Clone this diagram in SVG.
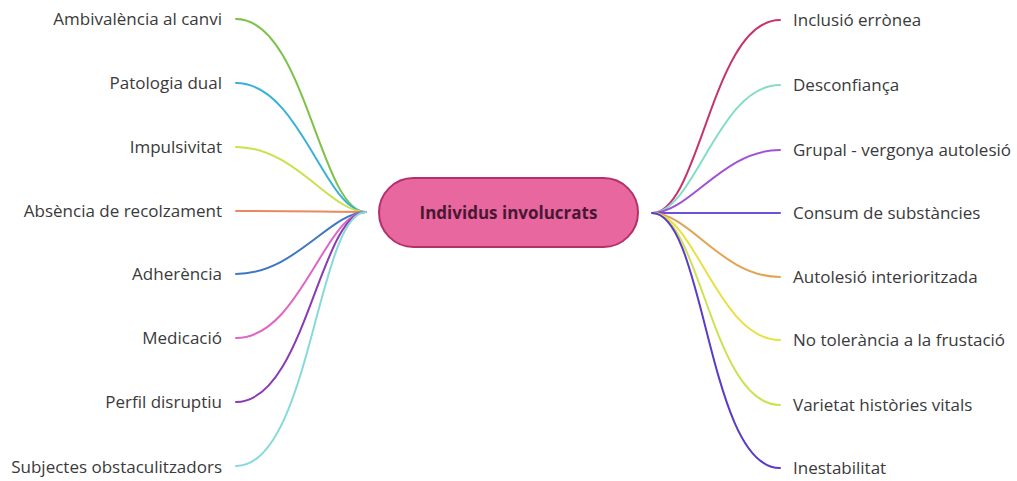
<svg xmlns="http://www.w3.org/2000/svg" width="1017" height="481" viewBox="0 0 1017 481">
  <style>
    .lbl { font-family: "Open Sans", "Noto Sans", sans-serif; font-size: 17px; fill: #3a3a3a; dominant-baseline: central; }
    .left { text-anchor: end; }
    .conn path { fill: none; stroke-width: 2; stroke-linecap: round; }
    .hub { fill: #e8679f; stroke: #b5306b; stroke-width: 2; }
    .hubtxt { font-family: "Open Sans", "Noto Sans", sans-serif; font-size: 17px; font-weight: bold; fill: #4a1733; text-anchor: middle; dominant-baseline: central; }
  </style>
  <rect width="1017" height="481" fill="#ffffff"/>

  <!-- branches -->
  <g id="connectors" class="conn">
    <path d="M236,19 C305,19 320,212 366,212" stroke="#7cc24a"/>
    <path d="M236,83 C300,83 325,212 366,212" stroke="#3ab2d8"/>
    <path d="M236,147 C295,147 330,212 366,212" stroke="#cde04c"/>
    <path d="M236,211 C300,211 330,212 366,212" stroke="#e88a5e"/>
    <path d="M236,274 C295,274 330,212 366,212" stroke="#3f77c2"/>
    <path d="M236,338 C300,338 325,212 366,212" stroke="#e065c4"/>
    <path d="M236,402 C305,402 320,212 366,212" stroke="#8a3ab3"/>
    <path d="M236,466 C310,466 318,212 366,212" stroke="#86dada"/>

    <path d="M652,213 C700,213 712,20 780,20" stroke="#c8336f"/>
    <path d="M652,213 C695,213 718,85 780,85" stroke="#84dcc8"/>
    <path d="M652,213 C690,213 722,150 780,150" stroke="#a152d4"/>
    <path d="M652,213 C690,213 720,213 780,213" stroke="#6b52da"/>
    <path d="M652,213 C690,213 722,277 780,277" stroke="#e2a452"/>
    <path d="M652,213 C695,213 718,340 780,340" stroke="#e9e043"/>
    <path d="M652,213 C700,213 712,405 780,405" stroke="#cfe153"/>
    <path d="M652,213 C705,213 708,468 780,468" stroke="#5b3bca"/>
  </g>

  <g id="center">
    <rect class="hub" x="379" y="178" width="259" height="69" rx="34.5"/>
    <text class="hubtxt" x="508.5" y="212.5">Individus involucrats</text>
  </g>

  <g id="n-ambivalencia"><text class="lbl left" x="222" y="18">Ambivalència al canvi</text></g>
  <g id="n-patologia"><text class="lbl left" x="222" y="82">Patologia dual</text></g>
  <g id="n-impulsivitat"><text class="lbl left" x="222" y="146">Impulsivitat</text></g>
  <g id="n-absencia"><text class="lbl left" x="222" y="210">Absència de recolzament</text></g>
  <g id="n-adherencia"><text class="lbl left" x="222" y="273">Adherència</text></g>
  <g id="n-medicacio"><text class="lbl left" x="222" y="337">Medicació</text></g>
  <g id="n-perfil"><text class="lbl left" x="222" y="401">Perfil disruptiu</text></g>
  <g id="n-subjectes"><text class="lbl left" x="222" y="466">Subjectes obstaculitzadors</text></g>

  <g id="n-inclusio"><text class="lbl" x="793" y="19">Inclusió errònea</text></g>
  <g id="n-desconfianca"><text class="lbl" x="793" y="84">Desconfiança</text></g>
  <g id="n-grupal"><text class="lbl" x="793" y="149">Grupal - vergonya autolesió</text></g>
  <g id="n-consum"><text class="lbl" x="793" y="212">Consum de substàncies</text></g>
  <g id="n-autolesio"><text class="lbl" x="793" y="276">Autolesió interioritzada</text></g>
  <g id="n-tolerancia"><text class="lbl" x="793" y="339">No tolerància a la frustació</text></g>
  <g id="n-varietat"><text class="lbl" x="793" y="404">Varietat històries vitals</text></g>
  <g id="n-inestabilitat"><text class="lbl" x="793" y="467">Inestabilitat</text></g>
</svg>
